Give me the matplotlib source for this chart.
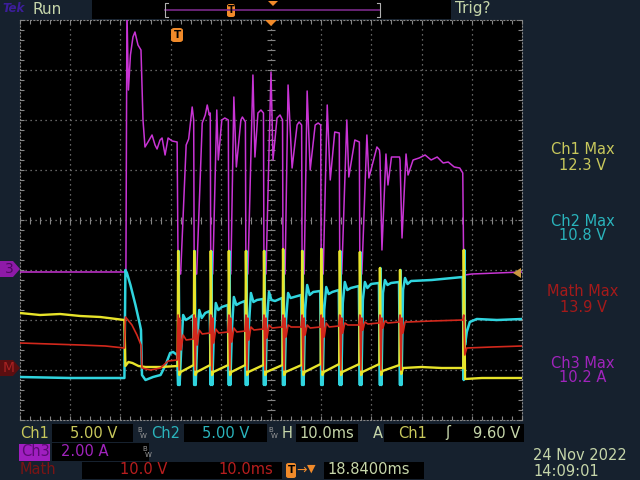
import numpy as np
import matplotlib
matplotlib.use('Agg')
import matplotlib.pyplot as plt
from matplotlib.patches import Rectangle, Polygon, FancyBboxPatch
from matplotlib.lines import Line2D

# time in ms (10 ms/div), level in screen divisions (0 = centre line)
ch3_pts = [
    (0, -1.04), (10, -1.04), (21.1, -1.04), (21.3, 4.2), (21.6, 2.6), (22.0, 3.3), (22.5, 3.66),
    (22.9, 3.76), (23.5, 3.5), (24.1, 3.4), (24.5, 2.0), (24.9, 1.46), (25.5, 1.56), (26.3, 1.7),
    (26.9, 1.5), (27.3, 1.42), (27.9, 1.6), (28.3, 1.64), (28.9, 1.3), (29.5, 1.64), (30.3, 1.58), (31.3, 1.56),
    (31.5, -1.08), (32.0, -1.08), (33.1, 1.5), (33.6, 1.62), (34.3, 2.26), (34.6, 2.0),
    (34.7, -1.08), (35.2, -1.08), (36.3, 1.94), (36.9, 2.1), (37.3, 2.3), (37.7, 2.1), (37.9, 2.14),
    (38.0, -1.08), (38.4, -1.08), (39.2, 2.2), (39.5, 1.2), (40.2, 2.0), (40.8, 2.04), (41.5, 2.0),
    (41.6, -1.08), (42.0, -1.08), (42.6, 2.46), (43.1, 1.06), (44.0, 2.0), (44.3, 2.06), (44.9, 1.96),
    (45.0, -1.08), (45.4, -1.08), (46.4, 2.9), (46.8, 1.26), (47.4, 2.14), (48.0, 2.2), (48.5, 2.14),
    (48.6, -1.08), (49.0, -1.08), (50.0, 2.96), (50.4, 1.2), (51.2, 2.04), (51.8, 2.1), (52.3, 2.0),
    (52.4, -1.08), (52.8, -1.08), (53.4, 2.7), (54.2, 1.04), (55.2, 1.9), (55.6, 1.96), (56.1, 1.9),
    (56.2, -1.08), (56.6, -1.08), (57.2, 2.58), (57.8, 1.0), (58.8, 1.9), (59.4, 1.94), (59.9, 1.9),
    (60.0, -1.08), (60.4, -1.08), (61.2, 2.3), (61.8, 0.8), (62.7, 1.76), (63.6, 1.74),
    (63.7, -1.08), (64.1, -1.08), (65.1, 2.0), (65.5, 0.86), (66.7, 1.6), (67.6, 1.56),
    (67.7, -1.08), (68.1, -1.08), (69.1, 1.7), (69.5, 0.84), (71.1, 1.46), (71.6, 1.4),
    (71.7, 1.3), (72.1, -0.6), (72.9, 1.32), (73.3, 0.7), (74.0, 1.26), (75.6, 1.26),
    (75.7, 1.2), (76.1, -0.36), (76.9, 1.32), (77.3, 0.9), (78.3, 1.2), (79.5, 1.24), (80.7, 1.3),
    (81.9, 1.2), (83.1, 1.26), (84.3, 1.14), (85.3, 1.16), (86.5, 1.06), (87.6, 1.04), (88.2, 0.94),
    (88.4, -1.1), (88.6, -1.1), (90, -1.08), (95, -1.06), (100, -1.04),
]

ch1_pts = [
    (0, -1.86), (4, -1.9), (8, -1.88), (12, -1.92), (16, -1.94), (20.8, -2.0),
    (21.0, -2.92), (21.6, -2.84), (22.4, -2.86), (23.6, -2.92), (25.0, -2.94), (28.0, -2.94), (31.4, -2.92),
    (31.5, -0.62), (31.75, -3.1), (32.0, -3.04), (34.6, -2.9),
    (34.7, -0.62), (34.95, -3.1), (35.2, -3.04), (37.9, -2.9),
    (38.0, -0.62), (38.25, -3.1), (38.5, -3.04), (41.5, -2.9),
    (41.6, -0.62), (41.85, -3.1), (42.1, -3.04), (44.9, -2.9),
    (45.0, -0.62), (45.25, -3.1), (45.5, -3.04), (48.5, -2.9),
    (48.6, -0.62), (48.85, -3.1), (49.1, -3.04), (52.3, -2.9),
    (52.4, -0.58), (52.65, -3.1), (52.9, -3.04), (56.1, -2.9),
    (56.2, -0.62), (56.45, -3.1), (56.7, -3.04), (59.9, -2.88),
    (60.0, -0.58), (60.25, -3.1), (60.5, -3.04), (63.6, -2.88),
    (63.7, -0.62), (63.95, -3.1), (64.2, -3.04), (67.6, -2.88),
    (67.7, -0.64), (67.95, -3.1), (68.2, -3.04), (71.6, -2.88),
    (71.7, -0.96), (71.95, -3.1), (72.2, -3.02), (75.6, -2.9),
    (75.7, -1.0), (75.95, -3.08), (76.3, -2.96), (80.0, -2.94), (84.0, -2.96), (88.3, -2.96),
    (88.4, -0.6), (88.65, -3.18), (92.0, -3.16), (100, -3.16),
]

ch2_pts = [
    (0, -3.14), (10, -3.16), (20.8, -3.16),
    (21.0, -1.0), (21.3, -1.06), (22.0, -1.3), (23.0, -1.7), (23.9, -2.1), (24.1, -2.2),
    (24.3, -3.1), (25.0, -3.2), (26.5, -3.14), (28.0, -3.1), (29.0, -2.9), (29.9, -2.66), (30.5, -2.64), (31.3, -2.7),
    (31.5, -3.3), (31.6, -0.62), (31.8, -3.3), (32.1, -2.6), (32.5, -1.9), (33.0, -2.0), (33.7, -1.96), (34.5, -1.9),
    (34.7, -3.3), (34.8, -0.62), (35.0, -3.3), (35.3, -2.4), (35.7, -1.8), (36.2, -1.96), (36.9, -1.86), (37.8, -1.82),
    (38.0, -3.3), (38.1, -0.62), (38.3, -3.3), (38.6, -2.3), (39.0, -1.66), (39.5, -1.8), (40.2, -1.74), (41.4, -1.7),
    (41.6, -3.3), (41.7, -0.62), (41.9, -3.3), (42.2, -2.2), (42.6, -1.54), (43.1, -1.7), (43.8, -1.66), (44.8, -1.62),
    (45.0, -3.3), (45.1, -0.62), (45.3, -3.3), (45.6, -2.1), (46.0, -1.46), (46.5, -1.64), (47.2, -1.6), (48.4, -1.58),
    (48.6, -3.3), (48.7, -0.62), (48.9, -3.3), (49.2, -2.0), (49.6, -1.44), (50.1, -1.6), (50.8, -1.62), (52.2, -1.56),
    (52.4, -3.3), (52.5, -0.6), (52.7, -3.3), (53.0, -2.0), (53.4, -1.46), (53.9, -1.56), (54.6, -1.54), (56.0, -1.5),
    (56.2, -3.3), (56.3, -0.62), (56.5, -3.3), (56.8, -1.8), (57.2, -1.3), (57.7, -1.5), (58.4, -1.44), (59.8, -1.42),
    (60.0, -3.3), (60.1, -0.58), (60.3, -3.3), (60.6, -1.8), (61.0, -1.34), (61.5, -1.48), (62.2, -1.44), (63.5, -1.4),
    (63.7, -3.3), (63.8, -0.62), (64.0, -3.3), (64.3, -1.66), (64.7, -1.24), (65.2, -1.4), (65.9, -1.36), (67.5, -1.32),
    (67.7, -3.3), (67.8, -0.64), (68.0, -3.3), (68.3, -1.6), (68.7, -1.24), (69.2, -1.36), (69.9, -1.28), (71.5, -1.26),
    (71.7, -3.3), (71.8, -0.96), (72.0, -3.3), (72.3, -1.46), (72.7, -1.2), (73.2, -1.3), (73.9, -1.26), (75.5, -1.24),
    (75.7, -3.3), (75.8, -1.0), (76.0, -3.3), (76.3, -1.4), (76.7, -1.16), (77.2, -1.28), (77.9, -1.22), (82.0, -1.2), (88.2, -1.14),
    (88.4, -3.2), (88.5, -0.6), (88.65, -2.5), (89.0, -2.24), (89.6, -2.04), (91.0, -1.98), (95.0, -2.0), (100, -1.98),
]

math_pts = [
    (0, -2.46), (6, -2.48), (12, -2.5), (17, -2.52), (20.8, -2.56),
    (21.0, -1.94), (21.5, -2.0), (22.3, -2.1), (23.3, -2.3), (24.1, -2.5), (24.3, -2.96), (26.0, -3.0),
    (28.0, -2.96), (29.5, -2.82), (31.3, -2.8),
    (31.5, -1.9), (31.7, -3.0), (31.9, -1.96), (32.1, -2.6), (32.5, -2.3), (33.1, -2.4), (34.5, -2.38),
    (34.7, -1.9), (34.9, -3.0), (35.1, -1.96), (35.3, -2.5), (35.7, -2.2), (36.3, -2.28), (37.8, -2.26),
    (38.0, -1.9), (38.2, -3.0), (38.4, -1.96), (38.6, -2.46), (39.0, -2.18), (39.6, -2.26), (41.4, -2.24),
    (41.6, -1.9), (41.8, -3.0), (42.0, -1.96), (42.2, -2.44), (42.6, -2.16), (43.2, -2.24), (44.8, -2.22),
    (45.0, -1.9), (45.2, -3.0), (45.4, -1.96), (45.6, -2.4), (46.0, -2.14), (46.6, -2.2), (48.4, -2.18),
    (48.6, -1.9), (48.8, -3.0), (49.0, -1.96), (49.2, -2.36), (49.6, -2.1), (50.2, -2.16), (52.2, -2.14),
    (52.4, -1.9), (52.6, -3.0), (52.8, -1.96), (53.0, -2.34), (53.4, -2.1), (54.0, -2.14), (56.0, -2.14),
    (56.2, -1.9), (56.4, -3.0), (56.6, -1.96), (56.8, -2.3), (57.2, -2.1), (57.8, -2.16), (59.8, -2.14),
    (60.0, -1.9), (60.2, -3.0), (60.4, -1.96), (60.6, -2.34), (61.0, -2.06), (61.6, -2.14), (63.5, -2.12),
    (63.7, -1.9), (63.9, -3.0), (64.1, -1.96), (64.3, -2.26), (64.7, -2.06), (65.3, -2.1), (67.5, -2.1),
    (67.7, -1.9), (67.9, -3.0), (68.1, -1.96), (68.3, -2.2), (68.7, -2.04), (69.3, -2.08), (71.5, -2.06),
    (71.7, -1.9), (71.9, -3.0), (72.1, -1.96), (72.3, -2.16), (72.7, -2.02), (73.3, -2.06), (75.5, -2.04),
    (75.7, -1.9), (75.9, -3.0), (76.1, -1.96), (76.3, -2.26), (76.7, -2.04), (77.3, -2.04), (82.0, -2.02), (88.2, -2.0),
    (88.4, -1.9), (88.6, -2.7), (89.0, -2.56), (94.0, -2.54), (100, -2.52),
]

max_labels = ['Ch1 Max', 'Ch2 Max', 'Math Max', 'Ch3 Max']
max_values = ['12.3 V', '10.8 V', '13.9 V', '10.2 A']

BG = '#16212e'
TXT = '#c6d6aa'
C1 = '#c8c85c'
C2 = '#2ab4bc'
CM = '#a41a1a'
C3 = '#a024bc'
ORANGE = '#f08a2a'
GRID = '#858585'


def px(x, y):
    return x / 640, 1 - y / 480


def fline(xs, ys, **kw):
    fig.add_artist(Line2D([x / 640 for x in xs], [1 - y / 480 for y in ys],
                          transform=fig.transFigure, **kw))


def fbox(x0, y0, x1, y1, color='black'):
    fig.add_artist(Rectangle(px(x0, y1), (x1 - x0) / 640, (y1 - y0) / 480,
                             transform=fig.transFigure, facecolor=color, edgecolor='none'))


def fpoly(pts, color):
    fig.add_artist(Polygon([px(x, y) for x, y in pts], closed=True,
                           transform=fig.transFigure, facecolor=color, edgecolor='none'))


def ftext(x, y, s, color, size=10.5, **kw):
    fig.text(*px(x, y), s, color=color, fontsize=size, va='center', ha=kw.pop('ha', 'left'), **kw)


fig = plt.figure(figsize=(6.4, 4.8), dpi=100)
fig.patch.set_facecolor(BG)

ax = fig.add_axes([20 / 640, 60 / 480, 502 / 640, 400 / 480])
ax.set_facecolor('black')
ax.set_xlim(0, 100)
ax.set_ylim(-4, 4)

# graticule
for t in range(10, 100, 10):
    ax.axvline(t, color=GRID, lw=0.9, ls=(0, (1, 3)), zorder=1)
for v in range(-3, 4):
    ax.axhline(v, color=GRID, lw=0.9, ls=(0, (1, 3)), zorder=1)
ax.vlines(np.arange(0, 100.1, 2), -0.07, 0.07, color=GRID, lw=0.8, zorder=1)
ax.hlines(np.arange(-4, 4.01, 0.2), 49.3, 50.7, color=GRID, lw=0.8, zorder=1)
ax.set_xticks(np.arange(0, 100.1, 2))
ax.set_yticks(np.arange(-4, 4.01, 0.2))
ax.tick_params(direction='in', length=3, width=0.8, color=GRID, top=True, right=True,
               labelbottom=False, labelleft=False)
for sp in ax.spines.values():
    sp.set_color(GRID)
    sp.set_linestyle((0, (1, 2)))
    sp.set_linewidth(0.8)

# traces
for pts, col, lw, z in [(ch3_pts, '#c834d4', 1.1, 3), (ch2_pts, '#30d4de', 1.8, 4),
                        (ch1_pts, '#e8e42a', 1.7, 5), (math_pts, '#d2281c', 1.2, 6)]:
    t, v = zip(*pts)
    ax.plot(t, v, color=col, lw=lw, zorder=z, solid_joinstyle='round')

# top status bar
ftext(2, 9, 'Tek', '#3c1e9a', size=8.5, fontweight='bold', style='italic')
ftext(32, 9, 'Run', TXT, size=11)
fbox(92, 0, 451, 19)
fline([165, 380], [10, 10], color='#7a2a8a', lw=1.2)
fline([168, 165, 165, 168], [3, 3, 17, 17], color='#b0b0b0', lw=0.8)
fline([377, 380, 380, 377], [3, 3, 17, 17], color='#b0b0b0', lw=0.8)
fig.add_artist(FancyBboxPatch(px(227, 17), 8 / 640, 13 / 480, boxstyle='round,pad=0,rounding_size=0.004',
                              transform=fig.transFigure, facecolor=ORANGE, edgecolor='none'))
ftext(231, 10, 'T', 'black', size=7, ha='center', fontweight='bold')
fpoly([(268, 1), (278, 1), (273, 6)], ORANGE)
ftext(455, 9, 'Trig?', TXT, size=11)

# markers around the graticule
fig.add_artist(FancyBboxPatch(px(171, 42), 12 / 640, 14 / 480, boxstyle='round,pad=0,rounding_size=0.005',
                              transform=fig.transFigure, facecolor=ORANGE, edgecolor='none'))
ftext(177, 35, 'T', 'black', size=7.5, ha='center', fontweight='bold')
fpoly([(265, 20), (277, 20), (271, 26)], ORANGE)
fpoly([(0, 261), (13, 261), (20, 269), (13, 277), (0, 277)], '#8e1aa8')
ftext(9, 269, '3', '#4e0860', size=10, ha='center')
fpoly([(0, 360), (13, 360), (20, 368), (13, 376), (0, 376)], '#5a0e10')
ftext(9, 368, 'M', '#a82222', size=10, ha='center')
fpoly([(513, 273), (521, 268), (521, 278)], '#c8963e')

# right side max readouts
for i, (lab, val, col) in enumerate(zip(max_labels, max_values, [C1, C2, CM, C3])):
    y0 = 150 + i * 71
    ftext(583, y0, lab, col, ha='center')
    ftext(583, y0 + 15, val, col, ha='center')

# bottom readouts
fbox(52, 424, 133, 442)
fbox(184, 424, 267, 442)
fbox(296, 424, 358, 442)
fbox(384, 424, 524, 442)
ftext(20, 433, 'Ch1', C1)
ftext(70, 433, '5.00 V', C1)
ftext(137, 430, 'B', '#9a9a9a', size=5)
ftext(140, 436, 'W', '#9a9a9a', size=5)
ftext(151, 433, 'Ch2', C2)
ftext(202, 433, '5.00 V', C2)
ftext(268, 430, 'B', '#9a9a9a', size=5)
ftext(271, 436, 'W', '#9a9a9a', size=5)
ftext(282, 433, 'H', TXT)
ftext(299, 433, '10.0ms', TXT)
ftext(373, 433, 'A', TXT)
ftext(398, 433, 'Ch1', C1)
ftext(445, 433, 'ʃ', TXT)
ftext(473, 433, '9.60 V', TXT)

fbox(19, 444, 50, 461, color='#a01ec0')
ftext(21, 452, 'Ch3', '#5c0a74')
fbox(52, 443, 149, 461)
ftext(61, 452, '2.00 A', C3)
ftext(142, 449, 'B', '#9a9a9a', size=5)
ftext(145, 455, 'W', '#9a9a9a', size=5)

ftext(20, 470, 'Math', '#7a1414')
fbox(82, 462, 282, 479)
ftext(120, 470, '10.0 V', '#b81e1e')
ftext(218, 470, '10.0ms', '#b81e1e')
fig.add_artist(FancyBboxPatch(px(286, 478), 10 / 640, 15 / 480, boxstyle='round,pad=0,rounding_size=0.004',
                              transform=fig.transFigure, facecolor=ORANGE, edgecolor='none'))
ftext(291, 470, 'T', 'black', size=7.5, ha='center', fontweight='bold')
ftext(296, 470, '→', ORANGE, size=9)
ftext(307, 469, '▼', ORANGE, size=8)
fbox(324, 462, 424, 479)
ftext(327, 470, '18.8400ms', TXT)

ftext(533, 455, '24 Nov 2022', TXT)
ftext(533, 472, '14:09:01', TXT)

fig.savefig('out.png', dpi=100, facecolor=fig.get_facecolor())
